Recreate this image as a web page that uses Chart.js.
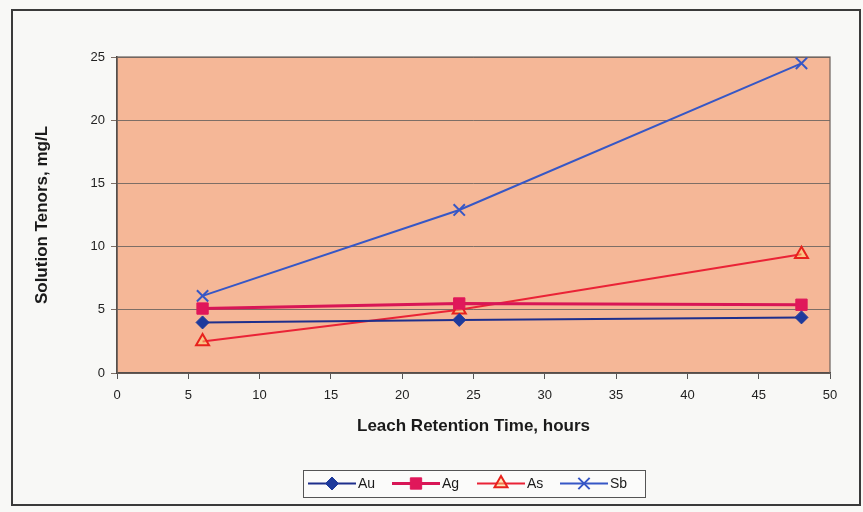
<!DOCTYPE html>
<html>
<head>
<meta charset="utf-8">
<script src="https://cdn.jsdelivr.net/npm/chart.js@4/dist/chart.umd.min.js"></script>
<style>
  html, body { margin: 0; padding: 0; background: #f8f8f6; }
  #wrap { width: 863px; height: 512px; position: relative; }
</style>
</head>
<body>
<div id="wrap"><canvas id="c" width="863" height="512"></canvas></div>
<script>
// Leach retention time (hours) and solution tenors (mg/L)
const hours = [6, 24, 48];
const au = [4.0, 4.2, 4.4];
const ag = [5.1, 5.5, 5.4];
const as = [2.5, 5.0, 9.4];
const sb = [6.1, 12.9, 24.5];
const yTicks = [0, 5, 10, 15, 20, 25];
const xTicks = [0, 5, 10, 15, 20, 25, 30, 35, 40, 45, 50];

const pts = vals => vals.map((v, i) => ({ x: hours[i], y: v }));

const FONT = "'Liberation Sans', Arial, sans-serif";

// Page frame, plot fill and plot border
const backdrop = {
  id: 'backdrop',
  beforeDraw(chart) {
    const { ctx, chartArea: a } = chart;
    ctx.save();
    ctx.fillStyle = '#f8f8f6';
    ctx.fillRect(0, 0, chart.width, chart.height);
    ctx.strokeStyle = '#3a3a3a';
    ctx.lineWidth = 2;
    ctx.strokeRect(12, 10, 848, 495);
    ctx.fillStyle = '#f5b797';
    ctx.fillRect(a.left, a.top, a.right - a.left, a.bottom - a.top);
    ctx.restore();
  },
  beforeDatasetsDraw(chart) {
    const { ctx, chartArea: a } = chart;
    ctx.save();
    ctx.strokeStyle = '#6d625c';
    ctx.lineWidth = 1.2;
    ctx.strokeRect(a.left, a.top, a.right - a.left, a.bottom - a.top);
    ctx.restore();
  }
};

// Boxed legend with line-and-marker swatches
const boxLegend = {
  id: 'boxLegend',
  afterDraw(chart) {
    const { ctx } = chart;
    const box = { x: 303, y: 470, w: 342, h: 27 };
    ctx.save();
    ctx.fillStyle = '#fbfbfa';
    ctx.fillRect(box.x, box.y, box.w, box.h);
    ctx.strokeStyle = '#555';
    ctx.lineWidth = 1;
    ctx.strokeRect(box.x + 0.5, box.y + 0.5, box.w, box.h);
    const cy = box.y + box.h / 2;
    const starts = [308, 392, 477, 560];
    ctx.font = '14px ' + FONT;
    ctx.textBaseline = 'middle';
    chart.data.datasets.forEach((ds, i) => {
      const x0 = starts[i];
      const x1 = x0 + 48;
      ctx.strokeStyle = ds.borderColor;
      ctx.lineWidth = ds.borderWidth;
      ctx.beginPath();
      ctx.moveTo(x0, cy);
      ctx.lineTo(x1, cy);
      ctx.stroke();
      ctx.fillStyle = ds.pointBackgroundColor;
      ctx.strokeStyle = ds.pointBorderColor;
      ctx.lineWidth = ds.pointBorderWidth;
      Chart.helpers.drawPoint(ctx, {
        pointStyle: ds.pointStyle,
        radius: ds.pointRadius,
        rotation: 0,
        borderWidth: ds.pointBorderWidth
      }, (x0 + x1) / 2, cy);
      ctx.fillStyle = '#1a1a1a';
      ctx.fillText(ds.label, x1 + 2, cy + 1);
    });
    ctx.restore();
  }
};

new Chart(document.getElementById('c'), {
  type: 'line',
  data: {
    datasets: [
      {
        label: 'Au', data: pts(au),
        borderColor: '#1e2f8c', borderWidth: 2,
        pointStyle: 'rectRot', pointRadius: 6.5,
        pointBackgroundColor: '#1e3a9c', pointBorderColor: '#1e3a9c', pointBorderWidth: 1
      },
      {
        label: 'Ag', data: pts(ag),
        borderColor: '#d81656', borderWidth: 3,
        pointStyle: 'rect', pointRadius: 8,
        pointBackgroundColor: '#e0175a', pointBorderColor: '#e0175a', pointBorderWidth: 1
      },
      {
        label: 'As', data: pts(as),
        borderColor: '#ea2336', borderWidth: 2,
        pointStyle: 'triangle', pointRadius: 7.5,
        pointBackgroundColor: 'rgba(255,214,110,0.45)', pointBorderColor: '#e8211c', pointBorderWidth: 2
      },
      {
        label: 'Sb', data: pts(sb),
        borderColor: '#3657c6', borderWidth: 2,
        pointStyle: 'crossRot', pointRadius: 8,
        pointBackgroundColor: '#3657c6', pointBorderColor: '#3657c6', pointBorderWidth: 2
      }
    ]
  },
  options: {
    responsive: false,
    animation: false,
    events: [],
    layout: { padding: { left: 28, top: 57, right: 33, bottom: 71 } },
    plugins: { legend: { display: false }, tooltip: { enabled: false } },
    scales: {
      x: {
        type: 'linear', min: 0, max: 50,
        afterFit: s => { s.height = 68; },
        afterBuildTicks: s => { s.ticks = xTicks.map(v => ({ value: v })); },
        ticks: { color: '#222', font: { family: FONT, size: 13 }, padding: 9, maxRotation: 0 },
        grid: { drawOnChartArea: false, drawTicks: true, tickLength: 6, color: '#555' },
        border: { display: true, color: '#333', width: 1.5 },
        title: { display: true, text: 'Leach Retention Time, hours', color: '#1a1a1a',
                 font: { family: FONT, size: 17, weight: 'bold' }, padding: { top: 4, bottom: 4 } }
      },
      y: {
        type: 'linear', min: 0, max: 25,
        afterFit: s => { s.width = 89; },
        afterBuildTicks: s => { s.ticks = yTicks.map(v => ({ value: v })); },
        ticks: { color: '#222', font: { family: FONT, size: 13 }, padding: 6 },
        grid: { color: '#7d6e66', lineWidth: 1, tickLength: 6, drawTicks: true },
        border: { display: true, color: '#333', width: 1.5 },
        title: { display: true, text: 'Solution Tenors, mg/L', color: '#1a1a1a',
                 font: { family: FONT, size: 17, weight: 'bold' }, padding: { top: 4, bottom: 4 } }
      }
    }
  },
  plugins: [backdrop, boxLegend]
});
</script>
</body>
</html>
